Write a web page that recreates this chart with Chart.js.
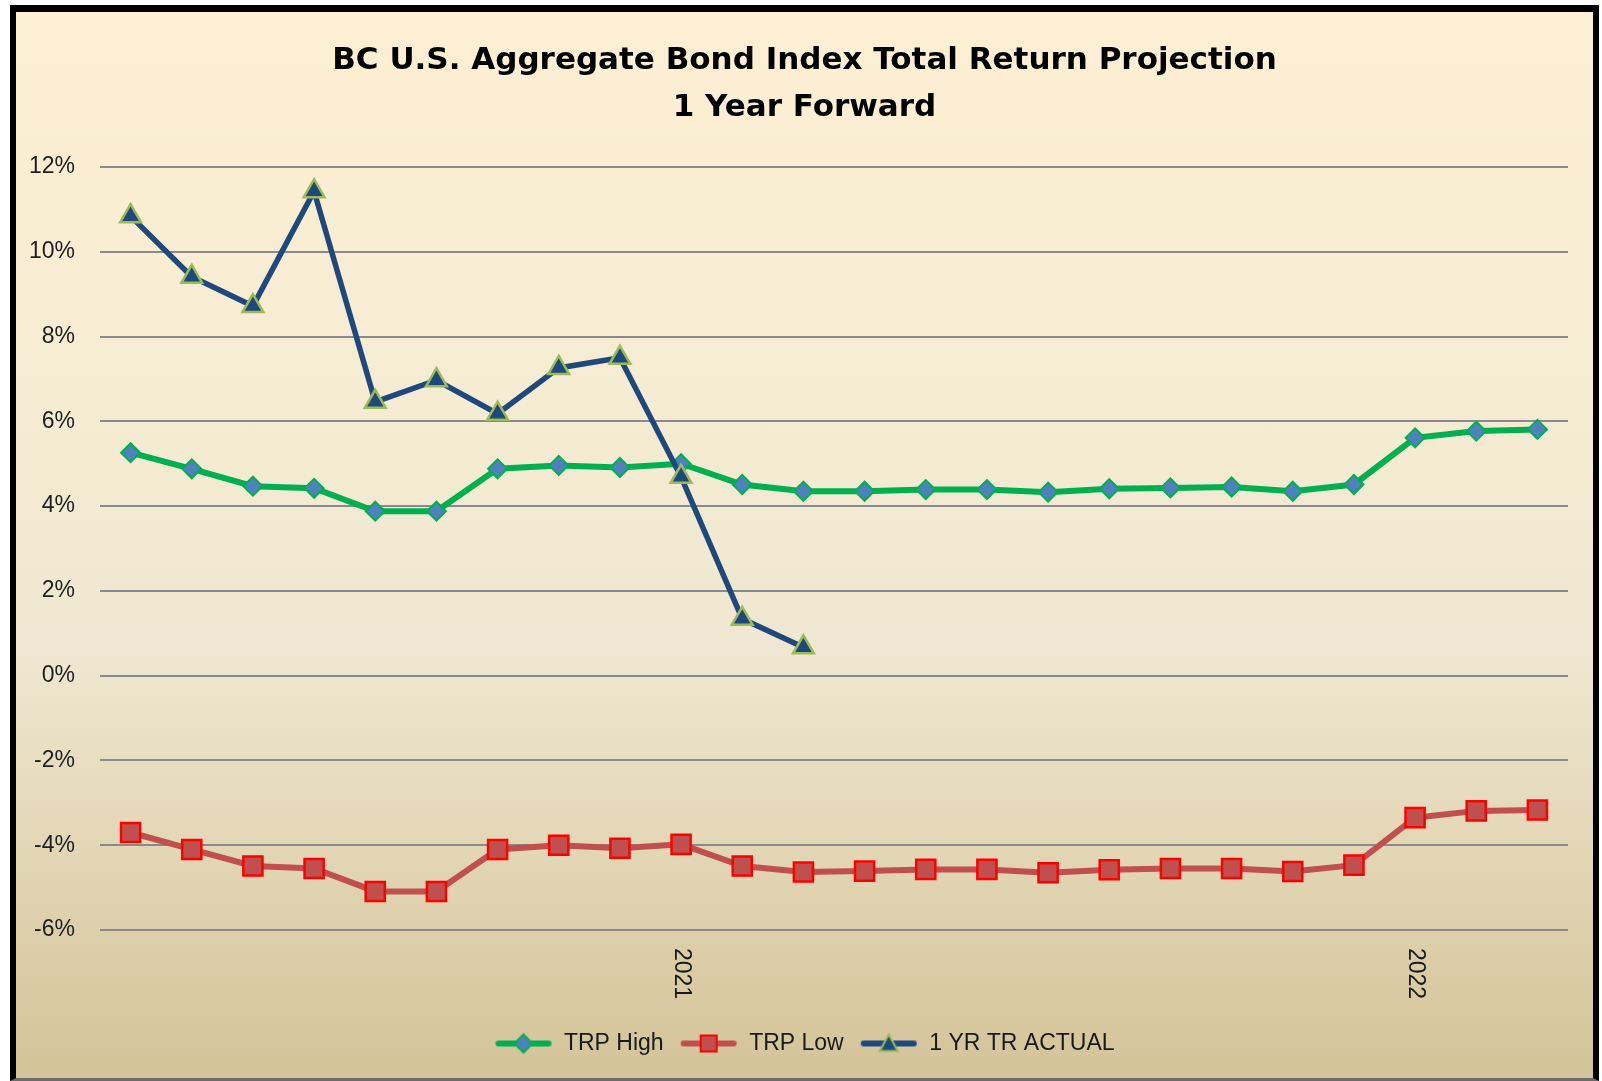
<!DOCTYPE html>
<html>
<head>
<meta charset="utf-8">
<script src="https://cdn.jsdelivr.net/npm/chart.js@4"></script>
<style>
  html, body { margin: 0; padding: 0; background: #fff; }
  #frame {
    position: absolute; left: 10px; top: 5px;
    width: 1589px; height: 1076px; box-sizing: border-box;
    border-left: 6px solid #000; border-right: 6px solid #000;
    border-top: 7px solid #000; border-bottom: 3px solid #6b6b6b;
    background: linear-gradient(to bottom, #fdefd2 0%, #f6ecd3 35%, #efe7d1 60%, #e2d5b3 80%, #d3c399 100%);
  }
  #wrap { position: relative; width: 1577px; height: 1066px; }
</style>
</head>
<body>
<div id="frame"><div id="wrap"><canvas id="myChart"></canvas></div></div>
<script>
// monthly points, Apr 2020 .. Mar 2022
const months = ['Apr 2020', 'May 2020', 'Jun 2020', 'Jul 2020', 'Aug 2020', 'Sep 2020',
    'Oct 2020', 'Nov 2020', 'Dec 2020', 'Jan 2021', 'Feb 2021', 'Mar 2021',
    'Apr 2021', 'May 2021', 'Jun 2021', 'Jul 2021', 'Aug 2021', 'Sep 2021',
    'Oct 2021', 'Nov 2021', 'Dec 2021', 'Jan 2022', 'Feb 2022', 'Mar 2022'];
const tickLabels = ['', '', '', '', '', '', '', '', '', '2021', '', '',
    '', '', '', '', '', '', '', '', '', '2022', '', ''];

const trpHigh = [5.26, 4.88, 4.47, 4.42, 3.88, 3.88, 4.88, 4.96, 4.91, 5.0, 4.51, 4.35,
    4.35, 4.39, 4.39, 4.33, 4.41, 4.43, 4.45, 4.35, 4.51, 5.61, 5.77, 5.81];
const trpLow = [-3.70, -4.10, -4.49, -4.55, -5.09, -5.09, -4.10, -4.00, -4.07, -3.98, -4.49, -4.63,
    -4.61, -4.57, -4.57, -4.65, -4.58, -4.55, -4.55, -4.62, -4.47, -3.35, -3.19, -3.17];
const actual = [10.84, 9.41, 8.72, 11.43, 6.46, 6.97, 6.18, 7.26, 7.50, 4.69, 1.34, 0.67,
    null, null, null, null, null, null, null, null, null, null, null, null];

const FONT = "'Liberation Sans', Arial, sans-serif";

// small line+marker pictures for the legend
function legendIcon(lineColor, shape, fill, stroke) {
    const c = document.createElement('canvas');
    c.width = 58; c.height = 26;
    const g = c.getContext('2d');
    g.strokeStyle = lineColor;
    g.lineWidth = 6;
    g.lineCap = 'round';
    g.beginPath(); g.moveTo(4, 13); g.lineTo(54, 13); g.stroke();
    g.beginPath();
    if (shape === 'diamond') {
        g.moveTo(29, 4); g.lineTo(38, 13); g.lineTo(29, 22); g.lineTo(20, 13);
    } else if (shape === 'square') {
        g.rect(21, 5, 16, 16);
    } else {
        g.moveTo(29, 4); g.lineTo(38, 20.5); g.lineTo(20, 20.5);
    }
    g.closePath();
    g.fillStyle = fill; g.fill();
    g.lineWidth = 2; g.strokeStyle = stroke; g.stroke();
    return c;
}
const icons = [
    legendIcon('#00b050', 'diamond', '#4f81bd', '#00b050'),
    legendIcon('#c0504d', 'square', '#c0504d', '#ff0000'),
    legendIcon('#1f497d', 'triangle', '#1f497d', '#9bbb59')
];

// year labels under the axis, turned clockwise
const yearLabels = {
    id: 'yearLabels',
    afterDraw(chart) {
        const x = chart.scales.x;
        const ctx = chart.ctx;
        ctx.save();
        ctx.font = '23px ' + FONT;
        ctx.fillStyle = '#1a1a1a';
        ctx.textAlign = 'left';
        ctx.textBaseline = 'middle';
        tickLabels.forEach((t, i) => {
            if (!t) return;
            ctx.save();
            ctx.translate(x.getPixelForValue(i), x.top + 18);
            ctx.rotate(Math.PI / 2);
            ctx.fillText(t, 0, 0);
            ctx.restore();
        });
        ctx.restore();
    }
};

const ctx = document.getElementById('myChart');

const myChart = new Chart(ctx, {
    type: 'line',
    data: {
        labels: months,
        datasets: [{
            label: 'TRP High',
            data: trpHigh,
            borderColor: '#00b050',
            borderWidth: 6,
            pointStyle: 'rectRot',
            pointRadius: 9.5,
            pointBackgroundColor: '#4f81bd',
            pointBorderColor: '#00b050',
            pointBorderWidth: 2,
            order: 3
        }, {
            label: 'TRP Low',
            data: trpLow,
            borderColor: '#c0504d',
            borderWidth: 6,
            pointStyle: 'rect',
            pointRadius: 13.5,
            pointBackgroundColor: '#c0504d',
            pointBorderColor: '#ff0000',
            pointBorderWidth: 2.5,
            order: 2
        }, {
            label: '1 YR TR ACTUAL',
            data: actual,
            borderColor: '#1f497d',
            borderWidth: 5.5,
            pointStyle: 'triangle',
            pointRadius: 12,
            pointBackgroundColor: '#1f497d',
            pointBorderColor: '#9bbb59',
            pointBorderWidth: 2.5,
            order: 1
        }]
    },
    options: {
        responsive: true,
        maintainAspectRatio: false,
        animation: false,
        layout: { padding: { left: 0, right: 0, top: 0, bottom: 13 } },
        elements: { line: { tension: 0 } },
        scales: {
            x: {
                offset: true,
                grid: { display: false },
                border: { display: false },
                ticks: { display: false },
                afterFit(scale) { scale.height = 86; }
            },
            y: {
                min: -6,
                max: 12,
                border: { display: false },
                grid: { color: '#8a8a8a', lineWidth: 2, drawTicks: false },
                ticks: {
                    stepSize: 2,
                    padding: 25,
                    color: '#1f1f1f',
                    font: { family: FONT, size: 23 },
                    callback: v => v + '%'
                },
                afterFit(scale) { scale.width = 84; }
            },
            // empty strip on the right so title and legend stay centred on the page
            yRight: {
                position: 'right',
                min: -6,
                max: 12,
                border: { display: false },
                grid: { display: false },
                ticks: { display: false },
                afterFit(scale) { scale.width = 25; }
            }
        },
        plugins: {
            title: {
                display: true,
                text: ['BC U.S. Aggregate Bond Index Total Return Projection', '1 Year Forward'],
                color: '#000',
                font: { family: "'DejaVu Sans', sans-serif", size: 31, weight: 'bold', lineHeight: 1.5 },
                padding: { top: 26, bottom: 36 }
            },
            legend: {
                position: 'bottom',
                labels: {
                    usePointStyle: true,
                    pointStyleWidth: 58,
                    padding: 16,
                    color: '#1a1a1a',
                    font: { family: FONT, size: 23 },
                    sort: (a, b) => a.datasetIndex - b.datasetIndex,
                    generateLabels(chart) {
                        const items = Chart.defaults.plugins.legend.labels.generateLabels(chart);
                        items.forEach(it => { it.pointStyle = icons[it.datasetIndex]; });
                        return items;
                    }
                }
            },
            tooltip: { enabled: false }
        }
    },
    plugins: [yearLabels]
});
</script>
</body>
</html>
